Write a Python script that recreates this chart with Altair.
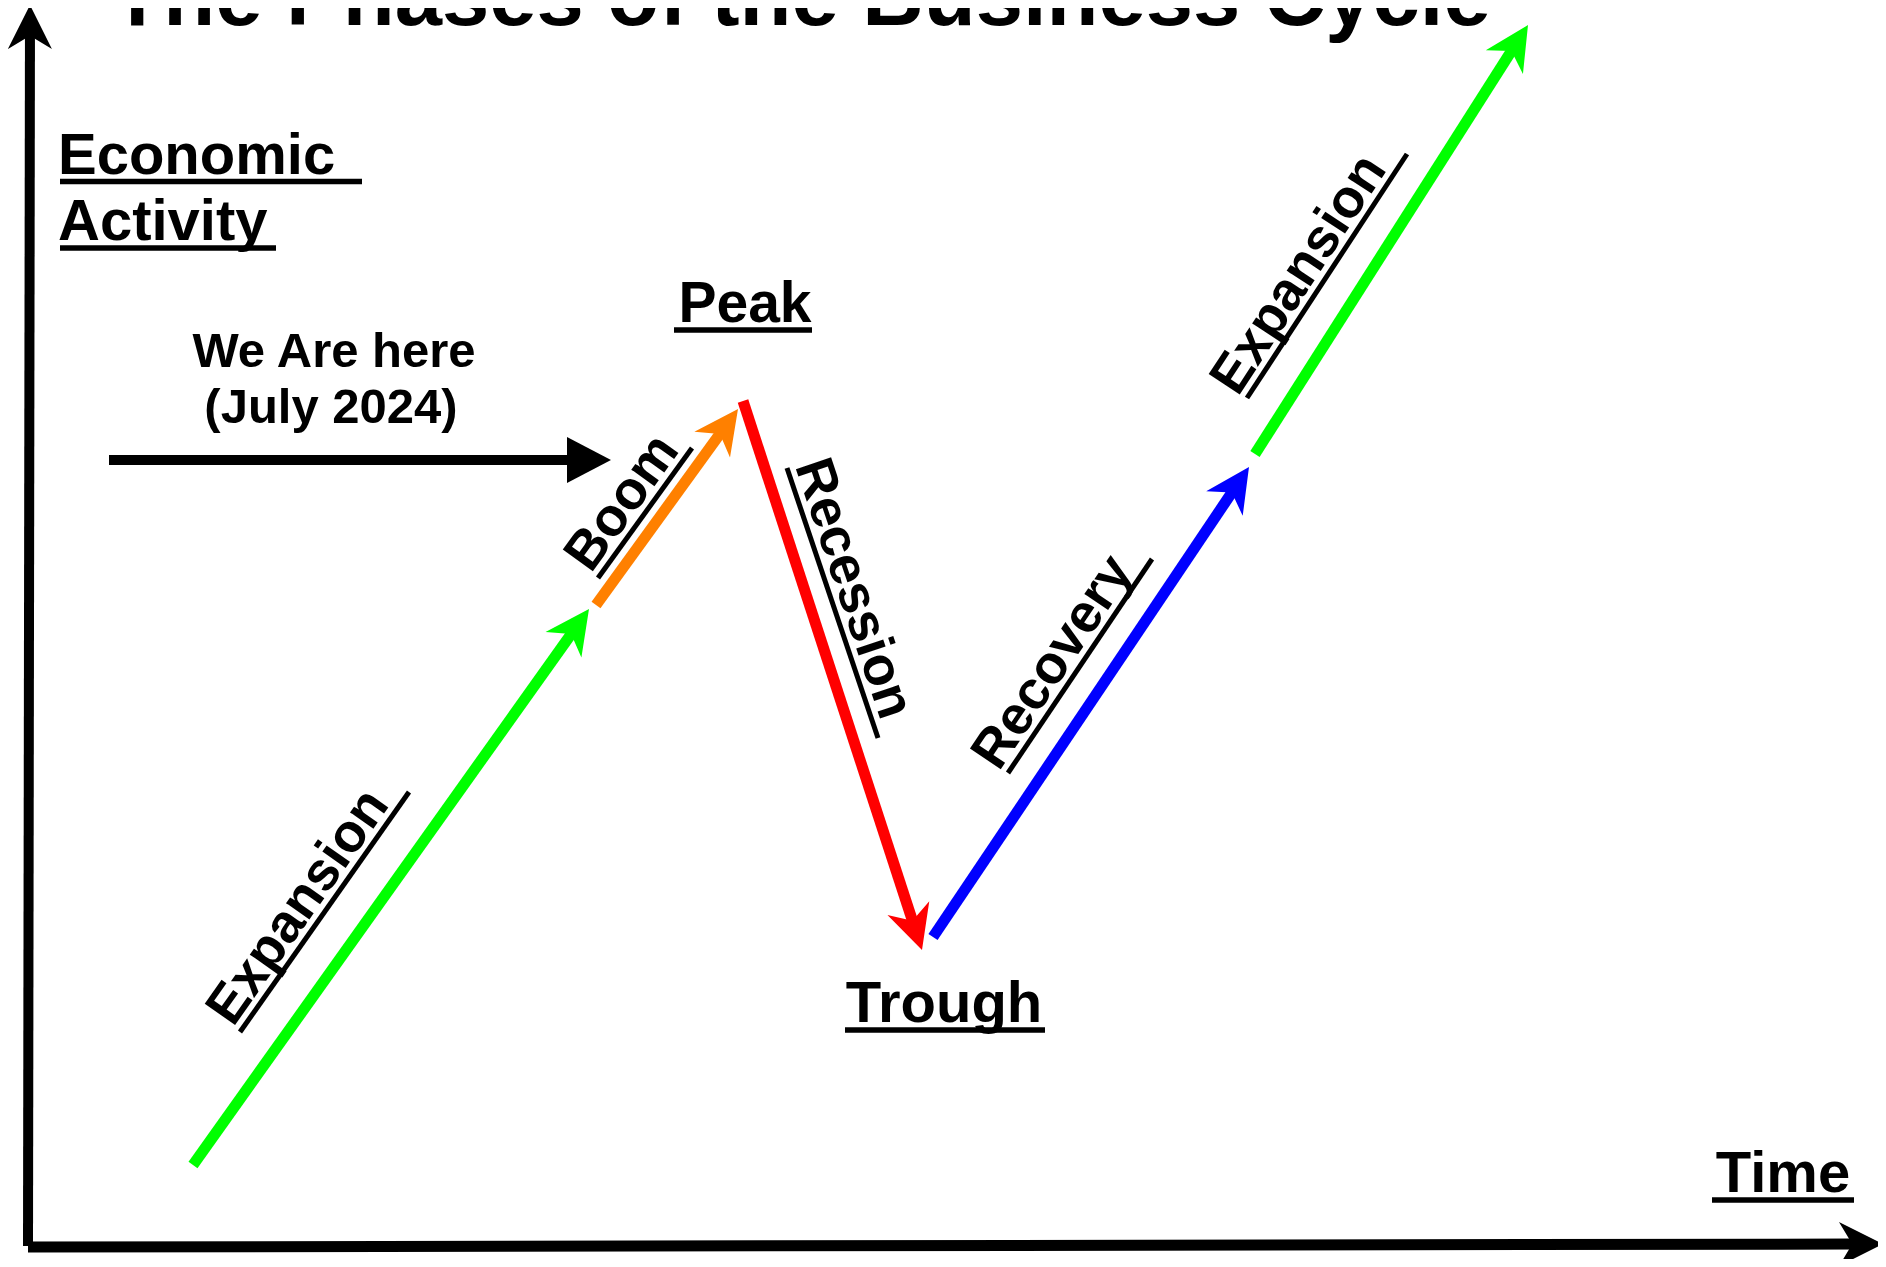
import math
import altair as alt
import pandas as pd

# ---- phases of the cycle: (time, activity) start/end points in page pixels ----
phase_names = ["Expansion", "Boom", "Recession", "Recovery", "Expansion"]
phase_colors = ["#00ff00", "#ff8000", "#ff0000", "#0000ff", "#00ff00"]
phase_x0 = [193, 596, 743, 933, 1255]
phase_y0 = [1165, 605, 401, 937, 454]
phase_x1 = [589, 738, 922, 1249, 1528]
phase_y1 = [609, 409, 950, 467, 25]

# underline of each phase label (reading direction start -> end)
label_x0 = [240, 598, 787, 1008, 1247]
label_y0 = [1032, 578, 468, 773, 398]
label_x1 = [409, 692, 878, 1152, 1407]
label_y1 = [792, 448, 738, 559, 154]
label_shift = [-11, -5, -7, -12, -14]   # along-line offset of the text centre

# axes and "we are here" pointer
axis_names = ["Economic Activity axis", "Time axis", "We Are here"]
axis_x0 = [28, 28, 109]
axis_y0 = [1246, 1247, 460]
axis_x1 = [30, 1883, 611]
axis_y1 = [5, 1244, 460]
axis_width = [10, 11, 10]

# horizontal texts
text_lines = ["The Phases of the Business Cycle", "Economic ", "Activity", "Peak", "Trough",
              "Time", "We Are here", "(July 2024)"]
text_x = [801, 58, 58, 745, 944, 1783, 334, 331]
text_y = [25, 174, 240, 322, 1022, 1192, 367, 423]
text_size = [85, 58, 58, 57, 58, 58, 49, 49]
text_align = ["center", "left", "left", "center", "center", "center", "center", "center"]
underline_x0 = [None, 60, 60, 674, 845, 1712, None, None]
underline_x1 = [None, 362, 276, 812, 1045, 1854, None, None]
underline_y = [None, 181.5, 248, 330, 1030, 1200, None, None]

FONT = "Liberation Sans"
HEAD_LEN = 44
NOTCH = 30


def unit(x0, y0, x1, y1):
    dx, dy = x1 - x0, y1 - y0
    L = math.hypot(dx, dy)
    return dx / L, dy / L


def head_angle(x0, y0, x1, y1):
    dx, dy = x1 - x0, y1 - y0
    return math.degrees(math.atan2(dx, -dy)) % 360


shafts, heads_notched, heads_tri = [], [], []
for i in range(len(phase_names)):
    ux, uy = unit(phase_x0[i], phase_y0[i], phase_x1[i], phase_y1[i])
    shafts.append(dict(x=phase_x0[i], y=phase_y0[i],
                       x2=phase_x1[i] - ux * NOTCH, y2=phase_y1[i] - uy * NOTCH,
                       color=phase_colors[i], w=11))
    heads_notched.append(dict(x=phase_x1[i], y=phase_y1[i], color=phase_colors[i],
                              angle=head_angle(phase_x0[i], phase_y0[i], phase_x1[i], phase_y1[i])))
for i in range(len(axis_names)):
    ux, uy = unit(axis_x0[i], axis_y0[i], axis_x1[i], axis_y1[i])
    back = NOTCH if i < 2 else 40
    shafts.append(dict(x=axis_x0[i], y=axis_y0[i],
                       x2=axis_x1[i] - ux * back, y2=axis_y1[i] - uy * back,
                       color="#000000", w=axis_width[i]))
    rec = dict(x=axis_x1[i], y=axis_y1[i], color="#000000",
               angle=head_angle(axis_x0[i], axis_y0[i], axis_x1[i], axis_y1[i]))
    (heads_notched if i < 2 else heads_tri).append(rec)

underlines = []
for i in range(len(text_lines)):
    if underline_x0[i] is not None:
        underlines.append(dict(x=underline_x0[i], y=underline_y[i], x2=underline_x1[i],
                               y2=underline_y[i], color="#000000", w=5.5))

rot_labels = []
for i in range(len(phase_names)):
    x0, y0, x1, y1 = label_x0[i], label_y0[i], label_x1[i], label_y1[i]
    underlines.append(dict(x=x0, y=y0, x2=x1, y2=y1, color="#000000", w=5))
    th = math.atan2(y1 - y0, x1 - x0)
    mx = (x0 + x1) / 2 + label_shift[i] * math.cos(th)
    my = (y0 + y1) / 2 + label_shift[i] * math.sin(th)
    d = 8
    rot_labels.append(dict(x=mx + d * math.sin(th), y=my - d * math.cos(th),
                           text=phase_names[i], angle=math.degrees(th) % 360))

hor = pd.DataFrame(dict(x=text_x, y=text_y, text=text_lines, size=text_size, align=text_align))

X = alt.X("x:Q", scale=alt.Scale(domain=[8, 1878], nice=False, zero=False), axis=None)
Y = alt.Y("y:Q", scale=alt.Scale(domain=[8, 1259], nice=False, zero=False, reverse=True), axis=None)

rules = alt.Chart(pd.DataFrame(shafts + underlines)).mark_rule(strokeCap="butt").encode(
    x=X, y=Y, x2="x2:Q", y2="y2:Q",
    color=alt.Color("color:N", scale=None),
    strokeWidth=alt.StrokeWidth("w:Q", scale=None),
)

notched = alt.Chart(pd.DataFrame(heads_notched)).mark_point(
    shape="M0,0 L1,2 L0,1.4 L-1,2 Z", size=(HEAD_LEN) ** 2, filled=True, opacity=1, strokeWidth=0
).encode(x=X, y=Y, color=alt.Color("color:N", scale=None), angle=alt.Angle("angle:Q", scale=None))

tri = alt.Chart(pd.DataFrame(heads_tri)).mark_point(
    shape="M0,0 L1.05,2 L-1.05,2 Z", size=(HEAD_LEN) ** 2, filled=True, opacity=1, strokeWidth=0
).encode(x=X, y=Y, color=alt.Color("color:N", scale=None), angle=alt.Angle("angle:Q", scale=None))

layers = [rules, notched, tri]
for al in ["left", "center"]:
    sub = hor[hor["align"] == al]
    for sz in sorted(sub["size"].unique()):
        part = sub[sub["size"] == sz]
        layers.append(alt.Chart(part).mark_text(
            font=FONT, fontWeight="bold", fontSize=int(sz), align=al, baseline="alphabetic",
            color="#000000"
        ).encode(x=X, y=Y, text="text:N"))

layers.append(alt.Chart(pd.DataFrame(rot_labels)).mark_text(
    font=FONT, fontWeight="bold", fontSize=54, align="center", baseline="alphabetic", color="#000000"
).encode(x=X, y=Y, text="text:N", angle=alt.Angle("angle:Q", scale=None)))

chart = alt.layer(*layers).properties(
    width=1870, height=1251, autosize=alt.AutoSizeParams(type="none"), padding=0,
    background="white"
).configure_view(stroke=None)

chart.save("out.html", embed_options={"renderer": "svg", "actions": False})
